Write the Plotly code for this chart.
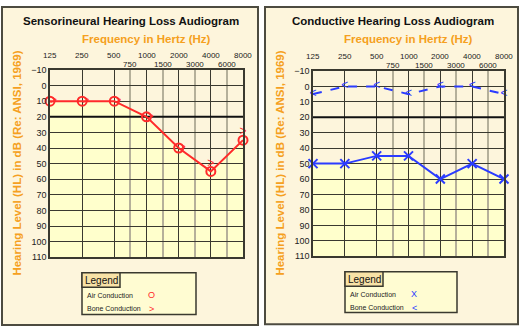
import numpy as np
import plotly.graph_objects as go

W, H = 521, 334

# data
freqs = [125, 250, 500, 1000, 2000, 4000, 8000]
mid_freqs = [750, 1500, 3000, 6000]
db_ticks = list(range(-10, 111, 10))

sn_air = [10, 10, 10, 20, 40, 55, 35]
sn_bone = [10, 10, 10, 20, 40, 50, 30]
cd_air = [50, 50, 45, 45, 60, 50, 60]
cd_bone = [5, 0, 0, 5, 0, 0, 5]

titles = ["Sensorineural Hearing Loss Audiogram", "Conductive Hearing Loss Audiogram"]
freq_title = "Frequency in Hertz (Hz)"
y_title = "Hearing Level (HL) in dB (Re: ANSI, 1969)"
legend_labels = ["Air Conduction", "Bone Conduction"]

RED = "#ff2b2b"
BLUE = "#2b3cff"
ORANGE = "#f5a020"
GRID = "#3a392f"
CREAM = "#fdf5dc"
YELLOW = "#ffffcc"


def pos(f):
    return float(np.log2(f / 125))


oct_pos = [pos(f) for f in freqs]
mid_pos = [np.floor(pos(f)) + 0.5 for f in mid_freqs]


def px_x(v):
    return v / W


def px_y(v):
    return 1 - v / H


def note(text, x, y, size, color, xref="paper", **kw):
    d = dict(text=text, x=x, y=y, xref=xref, yref="paper", showarrow=False,
             xanchor="center", yanchor="middle",
             font=dict(size=size, color=color, family="Arial"))
    d.update(kw)
    return d


fig = go.Figure()

# panel geometry in pixels: plot left, right, top, bottom, panel box
panels = [
    dict(l=50, r=243, t=67, b=260, box=(2, 2, 258, 330), cx=131,
         air=sn_air, bone=sn_bone, color=RED, air_sym="circle-open", bone_txt=">",
         bone_pos=["middle right"] * 5 + ["middle center"] * 2, dash="solid",
         leg=(82, 276, 196, 319), sym_txt=["O", ">"]),
    dict(l=313, r=504, t=68, b=259, box=(265, 2, 518, 329), cx=393,
         air=cd_air, bone=cd_bone, color=BLUE, air_sym="x-thin-open", bone_txt="<",
         bone_pos=["middle center"] * 7, dash="dash",
         leg=(345, 275, 457, 317), sym_txt=["X", "<"]),
]

shapes = []
annotations = []

for i, p in enumerate(panels):
    xa = "x" if i == 0 else "x2"
    ya = "y" if i == 0 else "y2"
    axis_kw = dict(showline=True, mirror=True, linecolor=GRID, linewidth=1.5, zeroline=False)
    fig.update_layout({
        ("xaxis" if i == 0 else "xaxis2"): dict(
            domain=[px_x(p["l"]), px_x(p["r"])], range=[0, 6], anchor=ya,
            tickvals=oct_pos, showticklabels=False, ticks="", showgrid=True,
            gridcolor=GRID, gridwidth=1,
            minor=dict(tickvals=mid_pos, showgrid=True, gridcolor="#b5b09a", gridwidth=2),
            **axis_kw),
        ("yaxis" if i == 0 else "yaxis2"): dict(
            domain=[px_y(p["b"]), px_y(p["t"])], range=[110, -10], anchor=xa,
            tickvals=db_ticks, ticks="", showgrid=True, gridcolor=GRID, gridwidth=1,
            tickfont=dict(size=9, color="#222", family="Arial"), **axis_kw),
    })

    # yellow area below the air conduction curve
    path = "M " + " L ".join(f"{x},{y}" for x, y in zip(oct_pos, p["air"]))
    path += f" L {oct_pos[-1]},110 L {oct_pos[0]},110 Z"
    shapes.append(dict(type="path", path=path, xref=xa, yref=ya, layer="below",
                       fillcolor=YELLOW, line=dict(width=0)))
    # thick 20 dB line
    shapes.append(dict(type="line", xref=xa, yref=ya, x0=0, x1=6, y0=20, y1=20,
                       layer="between", line=dict(color="#111", width=2)))

    # panel box
    bx0, by0, bx1, by1 = p["box"]
    shapes.append(dict(type="rect", xref="paper", yref="paper", layer="below",
                       x0=px_x(bx0), x1=px_x(bx1), y0=px_y(by1), y1=px_y(by0),
                       fillcolor=CREAM, line=dict(color="#4d4b40", width=2)))

    # traces
    fig.add_trace(go.Scatter(x=oct_pos, y=p["bone"], mode="lines+text" if p["dash"] != "solid" else "text",
                             text=[p["bone_txt"]] * len(freqs), textposition=p["bone_pos"],
                             textfont=dict(color=p["color"], size=12, family="Arial"),
                             line=dict(color=p["color"], width=2, dash=p["dash"]),
                             xaxis=xa, yaxis=ya, showlegend=False, cliponaxis=False,
                             hoverinfo="skip"))
    fig.add_trace(go.Scatter(x=oct_pos, y=p["air"], mode="lines+markers",
                             line=dict(color=p["color"], width=2),
                             marker=dict(symbol=p["air_sym"], size=9, color=p["color"],
                                         line=dict(width=2, color=p["color"])),
                             xaxis=xa, yaxis=ya, showlegend=False, cliponaxis=False,
                             hoverinfo="skip"))

    # titles
    annotations.append(note("<b>" + titles[i] + "</b>", px_x(p["cx"]), px_y(16), 11.5, "#111"))
    annotations.append(note("<b>" + freq_title + "</b>", px_x((p["l"] + p["r"]) / 2), px_y(35),
                            11.5, ORANGE))
    annotations.append(note("<b>" + y_title + "</b>", px_x(bx0 + 15), px_y((p["t"] + p["b"]) / 2),
                            11.5, ORANGE, textangle=-90))

    # frequency labels, two rows
    for f, xp in zip(freqs, oct_pos):
        annotations.append(note(str(f), xp, px_y(p["t"] - 15), 8, "#222", xref=xa))
    for f, xp in zip(mid_freqs, mid_pos):
        annotations.append(note(str(f), xp, px_y(p["t"] - 6), 8, "#222", xref=xa))

    # legend box
    lx0, ly0, lx1, ly1 = p["leg"]
    shapes.append(dict(type="rect", xref="paper", yref="paper", layer="above",
                       x0=px_x(lx0), x1=px_x(lx1), y0=px_y(ly1), y1=px_y(ly0),
                       fillcolor="#fffcd2", line=dict(color="#3a392f", width=1.5)))
    shapes.append(dict(type="rect", xref="paper", yref="paper", layer="above",
                       x0=px_x(lx0), x1=px_x(lx0 + 38), y0=px_y(ly0 + 15), y1=px_y(ly0),
                       fillcolor="#f8e2a6", line=dict(color="#3a392f", width=1.5)))
    annotations.append(note("Legend", px_x(lx0 + 19), px_y(ly0 + 8), 10, "#111"))
    for k, lab in enumerate(legend_labels):
        yy = ly0 + 23 + 14 * k
        annotations.append(note(lab, px_x(lx0 + 3), px_y(yy), 7, "#222", xanchor="left"))
        annotations.append(note(p["sym_txt"][k], px_x(lx0 + 69), px_y(yy), 9, p["color"]))

fig.update_layout(width=W, height=H, margin=dict(l=0, r=0, t=0, b=0),
                  paper_bgcolor="white", plot_bgcolor=CREAM,
                  shapes=shapes, annotations=annotations, showlegend=False)

fig.write_html("out.html", config={"displayModeBar": False},
               post_script="document.body.style.margin='0';")
